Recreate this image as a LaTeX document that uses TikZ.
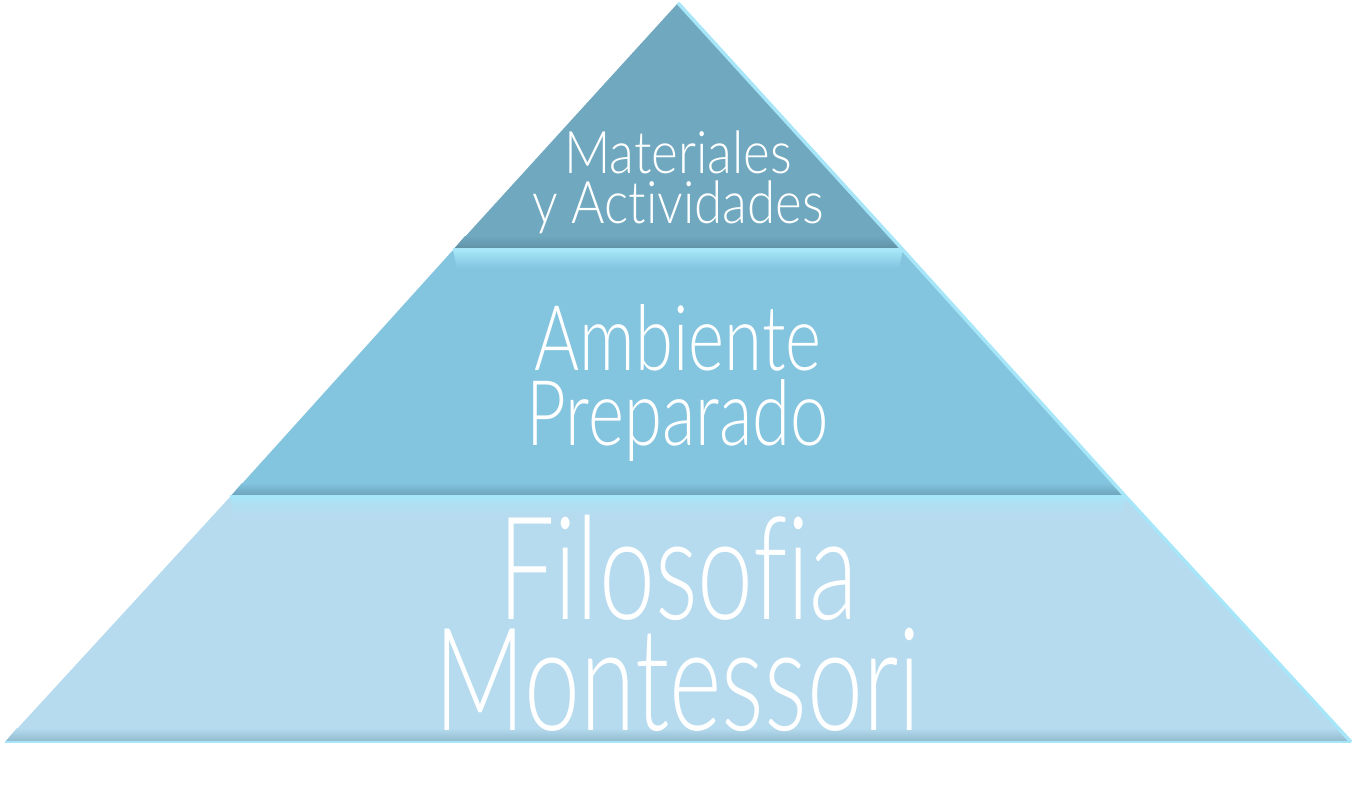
\documentclass[tikz,border=0pt]{standalone}
\usepackage{fontspec}
\newfontfamily\topfont[FakeStretch=0.87, Ligatures=NoCommon]{Lato Light}
\newfontfamily\midfont[FakeStretch=0.76, Ligatures=NoCommon]{Lato Light}
\newfontfamily\botfont[FakeStretch=0.70, Ligatures=NoCommon]{Lato Light}
\usetikzlibrary{calc}
\definecolor{topblue}{HTML}{6FA8BF}
\definecolor{midblue}{HTML}{83C4DF}
\definecolor{botblue}{HTML}{B6DBEF}
\definecolor{edgelight}{HTML}{A6E6F8}
\definecolor{edgedark}{HTML}{5F8FA2}

\begin{document}
\begin{tikzpicture}[x=0.01cm, y=-0.01cm,
    word/.style={text=white, anchor=base, inner sep=0pt, align=center},
    tierline/.style={edgelight, line width=1.2pt},
    sideline/.style={edgelight, line width=1pt}]

\useasboundingbox (0,0) rectangle (1355,793);

% corners of the three tiers
\coordinate (apex) at (678,3);
\coordinate (tl) at (453,250);
\coordinate (tr) at (903,250);
\coordinate (ml) at (230,497);
\coordinate (mr) at (1126,497);
\coordinate (bl) at (5,742);
\coordinate (br) at (1351,742);

% tiers
\fill[topblue] (apex) -- (tr) -- (tl) -- cycle;
\fill[midblue] (tl) -- (tr) -- (mr) -- (ml) -- cycle;
\fill[botblue] (ml) -- (mr) -- (br) -- (bl) -- cycle;

% bevel
\shade[top color=topblue, bottom color=edgedark] ($(tl)+(12,-14)$) -- ($(tr)+(-12,-14)$) -- (tr) -- (tl) -- cycle;
\shade[top color=midblue, bottom color=edgedark!70!midblue] ($(ml)+(12,-14)$) -- ($(mr)+(-12,-14)$) -- (mr) -- (ml) -- cycle;
\shade[top color=botblue, bottom color=edgedark!45!botblue] ($(bl)+(12,-14)$) -- ($(br)+(-12,-14)$) -- (br) -- (bl) -- cycle;
\shade[top color=edgelight, bottom color=midblue] (tl) -- (tr) -- ($(tr)+(-4,18)$) -- ($(tl)+(4,18)$) -- cycle;
\shade[top color=edgelight!70!botblue, bottom color=botblue] (ml) -- (mr) -- ($(mr)+(-4,18)$) -- ($(ml)+(4,18)$) -- cycle;
\draw[tierline] (tl) -- (tr);
\draw[tierline] (ml) -- (mr);
\draw[sideline] (apex) -- (tr);
\draw[sideline] (tr) -- (mr);
\draw[sideline] (mr) -- (br);
\draw[edgelight, line width=0.8pt] (bl) -- (br);

% labels (anchored on the baseline of the last line)
\node[word, font=\topfont\fontsize{16.7}{14.2}\selectfont] (mat) at (678,223) {Materiales\\y Actividades};
\node[word, font=\midfont\fontsize{25.8}{21.3}\selectfont] (amb) at (678,445) {Ambiente\\Preparado};
\node[word, font=\botfont\fontsize{40.8}{31.3}\selectfont] (fil) at (678,730) {Filosofia\\Montessori};

\end{tikzpicture}
\end{document}
